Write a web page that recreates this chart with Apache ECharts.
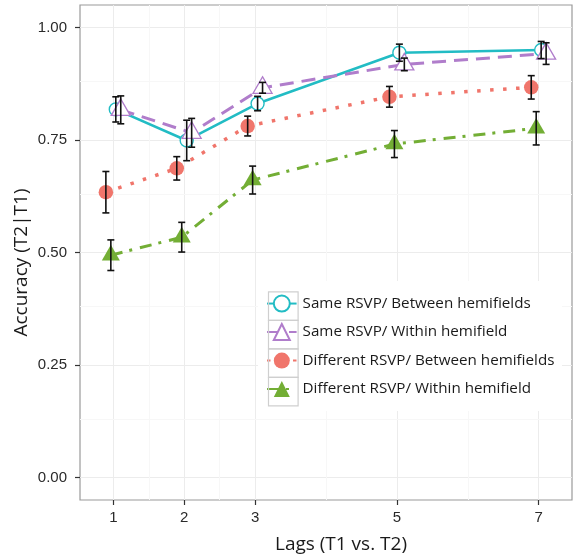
<!DOCTYPE html>
<html>
<head>
<meta charset="utf-8">
<script src="https://cdn.jsdelivr.net/npm/echarts@6/dist/echarts.min.js"></script>
<style>html,body{margin:0;padding:0;background:#fff;}#c{width:574px;height:558px;}</style>
</head>
<body>
<div id="c"></div>
<script>
// ---- data ----
const lags = [1, 2, 3, 5, 7];
const seriesNames = ['Same RSVP/ Between hemifields', 'Same RSVP/ Within hemifield', 'Different RSVP/ Between hemifields', 'Different RSVP/ Within hemifield'];
const sameBetween = [0.818, 0.749, 0.831, 0.944, 0.950];
const sameBetweenSE = [0.028, 0.045, 0.016, 0.019, 0.019];
const sameWithin = [0.817, 0.766, 0.866, 0.918, 0.942];
const sameWithinSE = [0.031, 0.032, 0.012, 0.014, 0.024];
const diffBetween = [0.634, 0.687, 0.781, 0.846, 0.867];
const diffBetweenSE = [0.046, 0.026, 0.022, 0.023, 0.026];
const diffWithin = [0.494, 0.534, 0.661, 0.741, 0.776];
const diffWithinSE = [0.034, 0.033, 0.031, 0.030, 0.037];
const yTicks = [0, 0.25, 0.5, 0.75, 1];
const yMinor = [0.125, 0.375, 0.625, 0.875];
const xMinor = [1.5, 2.5, 4, 6];

// ---- styling ----
const cyan = '#22BCC4', purple = '#B07DCB', red = '#F0756B', green = '#73AE35';
const dodge = [0.035, 0.105, -0.105, -0.035]; // same-between, same-within, diff-between, diff-within
const means = [sameBetween, sameWithin, diffBetween, diffWithin];
const ses = [sameBetweenSE, sameWithinSE, diffBetweenSE, diffWithinSE];

function pts(k) { return lags.map((l, i) => [l + dodge[k], means[k][i]]); }
function bars(k) { return lags.map((l, i) => [l + dodge[k], means[k][i] - ses[k][i], means[k][i] + ses[k][i]]); }

const lineDefs = [
  { color: cyan, type: 'solid', width: 2.6, symbol: 'circle', size: 13, fill: '#fff', bw: 1.4, off: [0, 0] },
  { color: purple, type: [14, 8], width: 3, symbol: 'triangle', size: [19, 16.5], fill: '#fff', bw: 1.3, off: [0, -2.7] },
  { color: red, type: [3.5, 9.5], width: 3.5, symbol: 'circle', size: 14.5, fill: red, bw: 0, off: [0, 0] },
  { color: green, type: [12, 7, 3, 8], width: 3, symbol: 'triangle', size: [18, 15.6], fill: green, bw: 0, off: [0, -2.6] }
];
const drawOrder = [2, 3, 0, 1];

const series = [];
// grid lines
series.push({
  type: 'line', data: [], z: 1, silent: true,
  markLine: {
    z: 1, silent: true, symbol: ['none', 'none'], label: { show: false }, animation: false,
    lineStyle: { color: '#ececec', width: 1, type: 'solid' },
    data: lags.map(v => ({ xAxis: v })).concat(yTicks.map(v => ({ yAxis: v })))
  }
});
series.push({
  type: 'line', data: [], z: 1, silent: true,
  markLine: {
    z: 1, silent: true, symbol: ['none', 'none'], label: { show: false }, animation: false,
    lineStyle: { color: '#f7f7f7', width: 1, type: 'solid' },
    data: xMinor.map(v => ({ xAxis: v })).concat(yMinor.map(v => ({ yAxis: v })))
  }
});
drawOrder.forEach(k => {
  const d = lineDefs[k];
  series.push({
    name: seriesNames[k], type: 'line', z: 3, data: pts(k),
    symbol: d.symbol, symbolSize: d.size, symbolOffset: d.off,
    lineStyle: { color: d.color, width: d.width, type: d.type, cap: 'butt' },
    itemStyle: { color: d.fill, borderColor: d.color, borderWidth: d.bw, opacity: 1 },
    emphasis: { disabled: true }
  });
});
drawOrder.forEach(k => {
  series.push({
    type: 'custom', z: 5, silent: true, data: bars(k),
    renderItem: function (params, api) {
      const x = api.value(0);
      const lo = api.coord([x, api.value(1)]);
      const hi = api.coord([x, api.value(2)]);
      const w = 3.5;
      const st = { stroke: '#111', lineWidth: 1.6 };
      return {
        type: 'group', children: [
          { type: 'line', shape: { x1: lo[0], y1: lo[1], x2: hi[0], y2: hi[1] }, style: st },
          { type: 'line', shape: { x1: lo[0] - w, y1: lo[1], x2: lo[0] + w, y2: lo[1] }, style: st },
          { type: 'line', shape: { x1: hi[0] - w, y1: hi[1], x2: hi[0] + w, y2: hi[1] }, style: st }
        ]
      };
    }
  });
});

const legendLeft = 266, legendTop = 289.3, keyW = 29.6, keyH = 28.5;
const keyBoxes = seriesNames.map((n, i) => ({
  type: 'rect', left: legendLeft, top: legendTop + i * keyH, z: 99,
  shape: { width: keyW, height: keyH },
  style: { fill: 'none', stroke: '#cfcfcf', lineWidth: 1.2 }
}));

const chart = echarts.init(document.getElementById('c'), null, { renderer: 'canvas' });
chart.setOption({
  animation: false,
  backgroundColor: '#fff',
  grid: { left: 80, top: 5, right: 2, bottom: 58, show: true, borderColor: '#9a9a9a', borderWidth: 1.2, backgroundColor: '#fff', containLabel: false, outerBoundsMode: 'none' },
  xAxis: {
    type: 'value', min: 0.53, max: 7.47,
    name: 'Lags (T1 vs. T2)', nameLocation: 'middle', nameGap: 35, nameMoveOverlap: false,
    nameTextStyle: { fontFamily: 'Open Sans', fontSize: 19, color: '#1a1a1a', padding: [0, 0, 0, 30] },
    axisLine: { show: false, onZero: false },
    axisTick: { show: true, length: 5, customValues: lags, lineStyle: { color: '#333', width: 1.2 } },
    axisLabel: { customValues: lags, margin: 10, fontFamily: 'Liberation Sans', fontSize: 15, color: '#2a2a2a' },
    splitLine: { show: false }
  },
  yAxis: {
    type: 'value', min: -0.05, max: 1.05,
    name: 'Accuracy (T2|T1)', nameLocation: 'middle', nameGap: 49, nameMoveOverlap: false,
    nameTextStyle: { fontFamily: 'Open Sans', fontSize: 19, color: '#1a1a1a', padding: [0, 20, 0, 0] },
    axisLine: { show: false, onZero: false },
    axisTick: { show: true, length: 5, customValues: yTicks, lineStyle: { color: '#333', width: 1.2 } },
    axisLabel: { customValues: yTicks, margin: 13, fontFamily: 'Liberation Sans', fontSize: 15, color: '#2a2a2a', formatter: v => v.toFixed(2) },
    splitLine: { show: false }
  },
  legend: {
    orient: 'vertical', left: legendLeft, top: legendTop + (keyH - 20) / 2, padding: 0, z: 6,
    itemWidth: keyW, itemHeight: 20, itemGap: keyH - 20,
    data: seriesNames,
    backgroundColor: 'transparent',
    textStyle: { fontFamily: 'Open Sans', fontSize: 15.2, color: '#1a1a1a', lineHeight: 16, padding: [4, 0, 0, 1] },
    selectedMode: false
  },
  graphic: [
    { type: 'rect', left: 258, top: 281, z: 2, shape: { width: 304, height: 130 }, style: { fill: '#fff' }, silent: true }
  ].concat(keyBoxes),
  series: series
});
</script>
</body>
</html>
